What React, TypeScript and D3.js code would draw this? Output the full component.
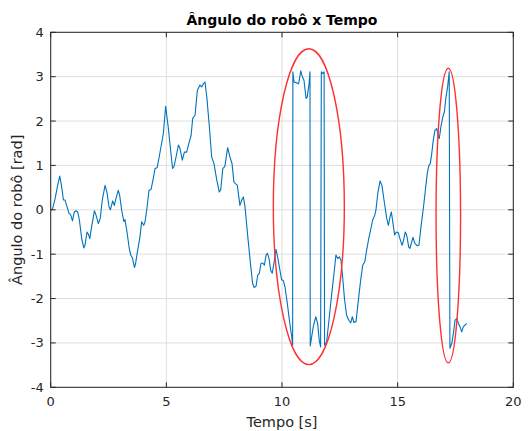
import React from "react";
import * as d3 from "d3";

// tempo [s]
const tempo = [
  0.0, 0.08, 0.19, 0.3, 0.39, 0.45, 0.5, 0.55, 0.62, 0.69, 0.79, 0.86, 0.94, 1.02, 1.09, 1.17, 1.24,
  1.34, 1.43, 1.48, 1.57, 1.63, 1.69, 1.77, 1.89, 1.96, 2.06, 2.14, 2.23, 2.35, 2.43, 2.52, 2.58,
  2.68, 2.75, 2.82, 2.92, 2.98, 3.07, 3.16, 3.21, 3.3, 3.39, 3.46, 3.53, 3.62, 3.67, 3.76, 3.86,
  3.93, 4.02, 4.08, 4.16, 4.25, 4.34, 4.42, 4.51, 4.6, 4.69, 4.87, 4.97, 5.08, 5.2, 5.27, 5.33,
  5.42, 5.52, 5.59, 5.69, 5.78, 5.88, 5.97, 6.07, 6.14, 6.24, 6.34, 6.45, 6.53, 6.6, 6.67, 6.75,
  6.86, 6.96, 7.06, 7.18, 7.29, 7.35, 7.44, 7.53, 7.65, 7.75, 7.84, 7.92, 7.99, 8.07, 8.18, 8.26,
  8.33, 8.4, 8.48, 8.55, 8.65, 8.73, 8.8, 8.88, 8.95, 9.02, 9.09, 9.17, 9.24, 9.31, 9.37, 9.44,
  9.51, 9.58, 9.67, 9.74, 9.81, 9.91, 9.98, 10.06, 10.13, 10.23, 10.32, 10.42, 10.46, 10.47, 10.52,
  10.64, 10.72, 10.81, 10.88, 10.95, 11.04, 11.09, 11.17, 11.21, 11.22, 11.35, 11.46, 11.54, 11.61,
  11.67, 11.7, 11.76, 11.82, 11.84, 11.93, 12.03, 12.15, 12.25, 12.33, 12.41, 12.48, 12.55, 12.62,
  12.7, 12.79, 12.89, 12.97, 13.04, 13.11, 13.2, 13.3, 13.4, 13.49, 13.58, 13.66, 13.75, 13.83,
  13.92, 14.01, 14.06, 14.15, 14.24, 14.32, 14.41, 14.53, 14.6, 14.67, 14.73, 14.81, 14.87, 14.94,
  15.03, 15.1, 15.19, 15.24, 15.33, 15.39, 15.48, 15.53, 15.61, 15.66, 15.75, 15.85, 15.92, 16.01,
  16.11, 16.19, 16.28, 16.35, 16.41, 16.47, 16.54, 16.61, 16.69, 16.76, 16.8, 16.87, 16.95, 17.02,
  17.09, 17.16, 17.23, 17.26, 17.34, 17.41, 17.48, 17.55, 17.63, 17.7, 17.77, 17.84, 17.91, 17.99,
];

// ângulo do robô [rad]
const angulo = [
  0.0, 0.02, 0.25, 0.55, 0.76, 0.59, 0.42, 0.22, 0.22, 0.1, -0.08, -0.11, -0.25, -0.05, -0.02, -0.05,
  -0.23, -0.65, -0.86, -0.8, -0.5, -0.55, -0.65, -0.38, -0.02, -0.12, -0.31, -0.2, 0.22, 0.55, 0.4,
  0.07, 0.0, 0.2, 0.1, 0.25, 0.44, 0.33, -0.01, -0.26, -0.22, -0.5, -0.85, -1.02, -1.08, -1.3, -1.21,
  -0.91, -0.61, -0.27, -0.35, -0.27, 0.03, 0.44, 0.46, 0.67, 0.93, 0.95, 1.19, 1.72, 2.33, 1.87, 1.27,
  0.93, 0.97, 1.19, 1.46, 1.38, 1.12, 1.3, 1.3, 1.49, 1.68, 2.06, 2.13, 2.69, 2.81, 2.77, 2.84, 2.88,
  2.54, 1.87, 1.19, 1.04, 0.67, 0.4, 0.45, 0.93, 0.98, 1.4, 1.19, 1.04, 0.63, 0.59, 0.55, 0.1, 0.22,
  0.29, 0.07, -0.38, -0.76, -1.28, -1.66, -1.75, -1.72, -1.47, -1.43, -1.21, -1.2, -1.25, -1.02,
  -0.98, -1.1, -1.36, -1.43, -1.14, -0.89, -1.06, -1.36, -1.57, -1.6, -1.74, -2.11, -2.49, -2.86,
  -3.05, 3.11, 2.88, 2.86, 2.84, 3.13, 3.0, 2.92, 2.51, 2.54, 2.84, 3.11, -3.07, -2.64, -2.41, -2.56,
  -2.94, -3.09, 3.11, 3.07, 3.11, -3.05, -2.98, -2.49, -1.89, -1.43, -1.02, -1.1, -1.06, -1.14, -1.5,
  -2.0, -2.37, -2.49, -2.55, -2.41, -2.54, -2.52, -2.04, -1.59, -1.25, -1.17, -0.91, -0.65, -0.46,
  -0.23, -0.12, -0.01, 0.4, 0.65, 0.55, 0.22, -0.2, -0.35, -0.16, -0.05, -0.35, -0.57, -0.5, -0.52,
  -0.65, -0.8, -0.72, -0.5, -0.57, -0.84, -0.87, -0.72, -0.62, -0.76, -0.81, -0.8, -0.38, 0.03, 0.4,
  0.82, 1.0, 1.04, 1.25, 1.57, 1.79, 1.83, 1.64, 1.61, 1.87, 2.09, 2.21, 2.54, 2.77, 3.11, -3.12,
  -3.01, -2.79, -2.49, -2.45, -2.56, -2.64, -2.75, -2.64, -2.6, -2.56,
];

// elipses de destaque: centro (t, ângulo) e semi-eixos
const destaqueT = [11.16, 17.19];
const destaqueA = [0.07, -0.13];
const destaqueRt = [1.535, 0.53];
const destaqueRa = [3.56, 3.32];

const xTicks = [0, 5, 10, 15, 20];
const yTicks = [-4, -3, -2, -1, 0, 1, 2, 3, 4];

const W = 529;
const H = 431;
const left = 50.7;
const right = 513.3;
const top = 32.3;
const bottom = 387.3;
const font = "'DejaVu Sans', sans-serif";
const textColor = "#262626";

export default function App() {
  const x = d3.scaleLinear().domain([0, 20]).range([left, right]);
  const y = d3.scaleLinear().domain([-4, 4]).range([bottom, top]);

  const pts = tempo.map((t, i) => [t, angulo[i]] as [number, number]);
  const line = d3
    .line<[number, number]>()
    .x((d) => x(d[0]))
    .y((d) => y(d[1]));

  const tick = 5;

  return (
    <svg
      width={W}
      height={H}
      style={{ position: "absolute", left: 0, top: 0, background: "#fff" }}
      fontFamily={font}
    >
      <rect x={0} y={0} width={W} height={H} fill="#fff" />
      {/* grade */}
      {xTicks.map((t) => (
        <line key={"gx" + t} x1={x(t)} x2={x(t)} y1={top} y2={bottom} stroke="#dedede" strokeWidth={1} />
      ))}
      {yTicks.map((t) => (
        <line key={"gy" + t} x1={left} x2={right} y1={y(t)} y2={y(t)} stroke="#dedede" strokeWidth={1} />
      ))}

      <path d={line(pts) ?? ""} fill="none" stroke="#0072BD" strokeWidth={1.1} strokeLinejoin="round" />

      {destaqueT.map((t, i) => (
        <ellipse
          key={"e" + i}
          cx={x(t)}
          cy={y(destaqueA[i])}
          rx={x(destaqueRt[i]) - x(0)}
          ry={y(0) - y(destaqueRa[i])}
          fill="none"
          stroke="#ff3030"
          strokeWidth={1.4}
        />
      ))}

      {/* caixa e marcas */}
      <rect x={left} y={top} width={right - left} height={bottom - top} fill="none" stroke={textColor} strokeWidth={1} />
      {xTicks.map((t) => (
        <g key={"tx" + t}>
          <line x1={x(t)} x2={x(t)} y1={bottom} y2={bottom - tick} stroke={textColor} />
          <line x1={x(t)} x2={x(t)} y1={top} y2={top + tick} stroke={textColor} />
          <text x={x(t)} y={bottom + 19} textAnchor="middle" fontSize={13} fill={textColor}>
            {t}
          </text>
        </g>
      ))}
      {yTicks.map((t) => (
        <g key={"ty" + t}>
          <line x1={left} x2={left + tick} y1={y(t)} y2={y(t)} stroke={textColor} />
          <line x1={right} x2={right - tick} y1={y(t)} y2={y(t)} stroke={textColor} />
          <text x={left - 7} y={y(t) + 4.5} textAnchor="end" fontSize={13} fill={textColor}>
            {t}
          </text>
        </g>
      ))}

      <text x={(left + right) / 2} y={427} textAnchor="middle" fontSize={14.5} fill={textColor}>
        Tempo [s]
      </text>
      <text
        transform={`translate(22,${(top + bottom) / 2}) rotate(-90)`}
        textAnchor="middle"
        fontSize={14.5}
        fill={textColor}
      >
        Ângulo do robô [rad]
      </text>
      <text x={(left + right) / 2} y={25} textAnchor="middle" fontSize={14} fontWeight="bold" fill="#000">
        Ângulo do robô x Tempo
      </text>
    </svg>
  );
}
